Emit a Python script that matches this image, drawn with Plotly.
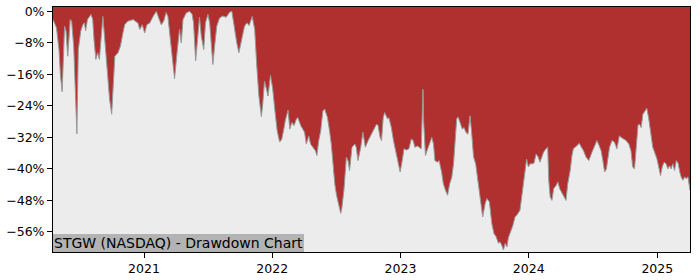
import plotly.graph_objects as go

# Drawdown data (percent)
dates = [
    "2020-04-17", "2020-04-27", "2020-05-04", "2020-05-08", "2020-05-13", "2020-05-20", "2020-05-24",
    "2020-05-29", "2020-06-05", "2020-06-09", "2020-06-15", "2020-06-20", "2020-06-24", "2020-06-28",
    "2020-07-05", "2020-07-11", "2020-07-15", "2020-07-19", "2020-07-24", "2020-08-03", "2020-08-08",
    "2020-08-12", "2020-08-17", "2020-08-22", "2020-08-27", "2020-09-06", "2020-09-16", "2020-09-25",
    "2020-10-01", "2020-10-10", "2020-10-19", "2020-10-26", "2020-11-02", "2020-11-07", "2020-11-16",
    "2020-12-01", "2020-12-15", "2020-12-20", "2020-12-27", "2021-01-03", "2021-01-09", "2021-01-17",
    "2021-01-27", "2021-02-05", "2021-02-12", "2021-02-19", "2021-02-26", "2021-03-05", "2021-03-10",
    "2021-03-17", "2021-03-22", "2021-03-29", "2021-04-05", "2021-04-12", "2021-04-17", "2021-04-22",
    "2021-05-01", "2021-05-11", "2021-05-18", "2021-05-22", "2021-05-28", "2021-06-03", "2021-06-08",
    "2021-06-13", "2021-06-20", "2021-06-25", "2021-07-02", "2021-07-07", "2021-07-16", "2021-07-21",
    "2021-07-27", "2021-08-04", "2021-08-13", "2021-08-23", "2021-09-02", "2021-09-08", "2021-09-16",
    "2021-09-22", "2021-09-28", "2021-10-08", "2021-10-14", "2021-10-21", "2021-10-27", "2021-11-05",
    "2021-11-12", "2021-11-18", "2021-11-24", "2021-12-01", "2021-12-05", "2021-12-10", "2021-12-17",
    "2021-12-20", "2021-12-27", "2022-01-02", "2022-01-09", "2022-01-15", "2022-01-22", "2022-01-28",
    "2022-02-03", "2022-02-07", "2022-02-15", "2022-02-20", "2022-02-26", "2022-03-04", "2022-03-11",
    "2022-03-15", "2022-03-23", "2022-03-29", "2022-04-03", "2022-04-08", "2022-04-15", "2022-04-20",
    "2022-04-27", "2022-05-04", "2022-05-08", "2022-05-13", "2022-05-19", "2022-05-25", "2022-05-30",
    "2022-06-07", "2022-06-13", "2022-06-18", "2022-06-23", "2022-06-28", "2022-07-03", "2022-07-09",
    "2022-07-15", "2022-07-18", "2022-07-24", "2022-07-31", "2022-08-05", "2022-08-09", "2022-08-16",
    "2022-08-24", "2022-08-28", "2022-09-02", "2022-09-10", "2022-09-16", "2022-09-23", "2022-10-01",
    "2022-10-08", "2022-10-18", "2022-10-25", "2022-10-29", "2022-11-04", "2022-11-08", "2022-11-13",
    "2022-11-17", "2022-11-25", "2022-11-29", "2022-12-06", "2022-12-12", "2022-12-18", "2022-12-25",
    "2022-12-31", "2023-01-06", "2023-01-11", "2023-01-18", "2023-01-25", "2023-02-01", "2023-02-06",
    "2023-02-11", "2023-02-18", "2023-02-23", "2023-03-01", "2023-03-04", "2023-03-06", "2023-03-08",
    "2023-03-13", "2023-03-19", "2023-03-25", "2023-03-31", "2023-04-05", "2023-04-09", "2023-04-16",
    "2023-04-21", "2023-04-28", "2023-05-03", "2023-05-09", "2023-05-15", "2023-05-21", "2023-05-27",
    "2023-06-01", "2023-06-04", "2023-06-10", "2023-06-14", "2023-06-20", "2023-06-26", "2023-07-01",
    "2023-07-06", "2023-07-12", "2023-07-18", "2023-07-22", "2023-07-28", "2023-08-03", "2023-08-08",
    "2023-08-11", "2023-08-18", "2023-08-23", "2023-08-30", "2023-09-04", "2023-09-11", "2023-09-18",
    "2023-09-24", "2023-09-30", "2023-10-07", "2023-10-11", "2023-10-16", "2023-10-21", "2023-10-26",
    "2023-10-31", "2023-11-04", "2023-11-09", "2023-11-17", "2023-11-23", "2023-11-30", "2023-12-07",
    "2023-12-12", "2023-12-17", "2023-12-22", "2023-12-26", "2023-12-31", "2024-01-05", "2024-01-13",
    "2024-01-16", "2024-01-22", "2024-01-28", "2024-02-02", "2024-02-07", "2024-02-12", "2024-02-19",
    "2024-02-24", "2024-02-27", "2024-03-02", "2024-03-07", "2024-03-12", "2024-03-19", "2024-03-24",
    "2024-03-29", "2024-04-04", "2024-04-10", "2024-04-16", "2024-04-21", "2024-04-28", "2024-05-03",
    "2024-05-07", "2024-05-17", "2024-05-24", "2024-05-30", "2024-06-05", "2024-06-12", "2024-06-20",
    "2024-06-27", "2024-07-06", "2024-07-13", "2024-07-19", "2024-07-25", "2024-07-30", "2024-08-04",
    "2024-08-09", "2024-08-13", "2024-08-18", "2024-08-25", "2024-09-01", "2024-09-08", "2024-09-15",
    "2024-09-20", "2024-09-27", "2024-10-04", "2024-10-12", "2024-10-18", "2024-10-23", "2024-10-28",
    "2024-11-02", "2024-11-07", "2024-11-11", "2024-11-16", "2024-11-21", "2024-11-27", "2024-12-02",
    "2024-12-07", "2024-12-13", "2024-12-19", "2024-12-26", "2024-12-31", "2025-01-05", "2025-01-10",
    "2025-01-15", "2025-01-20", "2025-01-26", "2025-01-31", "2025-02-05", "2025-02-09", "2025-02-14",
    "2025-02-19", "2025-02-24", "2025-03-01", "2025-03-06", "2025-03-10", "2025-03-15", "2025-03-20",
    "2025-03-24", "2025-03-29", "2025-04-04",
]
drawdown = [
    -2.1, -4.2, -9.7, -16.0, -20.4, -3.8, -5.0,
    -11.4, -2.1, -2.5, -9.0, -22.0, -31.1, -9.7,
    -5.0, -3.4, -2.9, -4.9, -2.1, -0.8, -2.0,
    -7.6, -12.2, -10.5, -12.2, -1.3, -12.2, -22.3,
    -26.1, -11.4, -10.5, -8.8, -5.5, -3.4, -2.5,
    -2.1, -3.0, -4.6, -3.4, -5.5, -3.4, -3.0,
    -1.3, 0.0, -1.7, -3.4, -2.5, -0.3, -1.3,
    -7.1, -12.2, -17.1, -10.5, -4.6, -8.0, -2.1,
    -0.4, 0.0, -0.8, -2.9, -12.6, -5.5, -1.5,
    -6.3, -9.7, -2.9, -0.8, -3.0, -13.5, -8.8,
    -3.8, -1.7, -1.2, -1.5, -0.2, 0.0, -5.0,
    -8.0, -10.5, -6.7, -3.8, -2.9, -3.6, -1.3,
    -4.6, -13.9, -21.5, -26.7, -23.5, -17.7, -20.6,
    -21.5, -16.2, -19.5, -25.5, -30.3, -33.2, -32.5,
    -29.9, -27.8, -25.1, -29.9, -28.2, -29.0, -27.3,
    -27.0, -29.0, -29.9, -30.7, -33.7, -31.6, -33.7,
    -34.5, -35.4, -36.6, -33.0, -30.3, -25.3, -24.8,
    -26.9, -30.3, -33.7, -38.7, -43.8, -46.7, -48.8,
    -51.3, -50.0, -45.4, -37.0, -38.0, -40.4, -34.5,
    -33.7, -34.5, -37.9, -34.5, -30.7, -34.5, -32.8,
    -31.6, -29.5, -28.6, -29.0, -32.0, -32.8, -26.9,
    -25.7, -27.3, -27.0, -29.5, -32.8, -35.4, -38.7,
    -40.8, -37.9, -34.9, -35.2, -34.9, -32.4, -32.8,
    -34.5, -34.2, -34.5, -34.9, -26.0, -19.8, -28.0,
    -36.6, -35.0, -33.7, -32.0, -33.7, -37.9, -38.3,
    -37.9, -40.8, -43.8, -45.4, -46.7, -43.8, -42.1,
    -38.7, -34.5, -27.3, -26.8, -28.6, -29.9, -29.5,
    -30.7, -31.2, -26.5, -30.3, -37.0, -38.7, -42.1,
    -45.4, -48.8, -52.2, -48.8, -47.5, -48.4, -53.9,
    -56.4, -57.2, -58.9, -58.5, -59.3, -60.6, -58.9,
    -59.8, -57.5, -56.4, -54.3, -52.2, -51.5, -50.5,
    -47.1, -42.9, -40.0, -37.5, -39.5, -38.7, -38.7,
    -38.5, -36.2, -37.0, -38.3, -36.8, -35.8, -34.9,
    -34.5, -42.9, -47.1, -48.0, -45.0, -44.2, -43.3,
    -45.0, -45.9, -47.0, -48.0, -43.8, -40.4, -36.6,
    -34.9, -34.1, -33.5, -34.5, -35.4, -37.0, -37.9,
    -36.2, -34.5, -32.8, -34.0, -35.4, -37.9, -40.8,
    -40.0, -37.9, -34.5, -32.8, -33.2, -34.9, -31.6,
    -32.0, -32.4, -32.8, -33.7, -35.4, -39.5, -40.0,
    -34.5, -29.0, -28.6, -29.5, -26.1, -25.3, -24.6,
    -26.9, -30.3, -34.5, -36.2, -37.5, -39.5, -41.7,
    -39.5, -38.3, -38.7, -40.0, -39.2, -40.0, -38.7,
    -40.4, -37.9, -38.5, -40.8, -42.1, -42.9, -42.0,
    -42.5, -42.0, -45.4,
]

y_ticks = [0, -8, -16, -24, -32, -40, -48, -56]
y_ticktext = ["0%", "\u22128%", "\u221216%", "\u221224%", "\u221232%", "\u221240%", "\u221248%", "\u221256%"]
x_ticks = ["2021-01-01", "2022-01-01", "2023-01-01", "2024-01-01", "2025-01-01"]
x_ticktext = ["2021", "2022", "2023", "2024", "2025"]

Y_MIN, Y_MAX = -61.1, 1.1
X_RANGE = ["2020-04-17", "2025-04-04"]

RED = "#b03030"
GRAY_FILL = "#ececec"
EDGE = "#999999"
FONT = "DejaVu Sans"

fig = go.Figure()
fig.add_trace(go.Scatter(
    x=dates, y=[Y_MIN] * len(dates), mode="lines",
    line=dict(width=0, color=GRAY_FILL), hoverinfo="skip", showlegend=False,
))
fig.add_trace(go.Scatter(
    x=dates, y=drawdown, mode="lines", fill="tonexty",
    fillcolor=GRAY_FILL, line=dict(color=EDGE, width=1),
    showlegend=False,
))

fig.add_annotation(
    text="STGW (NASDAQ) - Drawdown Chart",
    xref="paper", yref="paper", x=0, y=0, xanchor="left", yanchor="bottom",
    showarrow=False, bgcolor="#b3b3b3", borderpad=1, borderwidth=0,
    font=dict(family=FONT, size=14, color="black"),
)

fig.update_layout(
    width=700, height=280,
    margin=dict(l=53, r=10, t=7, b=28, autoexpand=False),
    paper_bgcolor="white", plot_bgcolor=RED,
    showlegend=False,
    font=dict(family=FONT, size=12.5, color="black"),
)
fig.update_xaxes(
    range=X_RANGE, tickvals=x_ticks, ticktext=x_ticktext, automargin=False,
    showgrid=False, zeroline=False, showline=True, linecolor="black", linewidth=1,
    mirror=True, ticks="outside", ticklen=5, tickcolor="black",
)
fig.update_yaxes(
    range=[Y_MIN, Y_MAX], tickvals=y_ticks, ticktext=y_ticktext, automargin=False,
    showgrid=False, zeroline=False, showline=True, linecolor="black", linewidth=1,
    mirror=True, ticks="outside", ticklen=5, tickcolor="black",
)

fig.write_html("out.html")
